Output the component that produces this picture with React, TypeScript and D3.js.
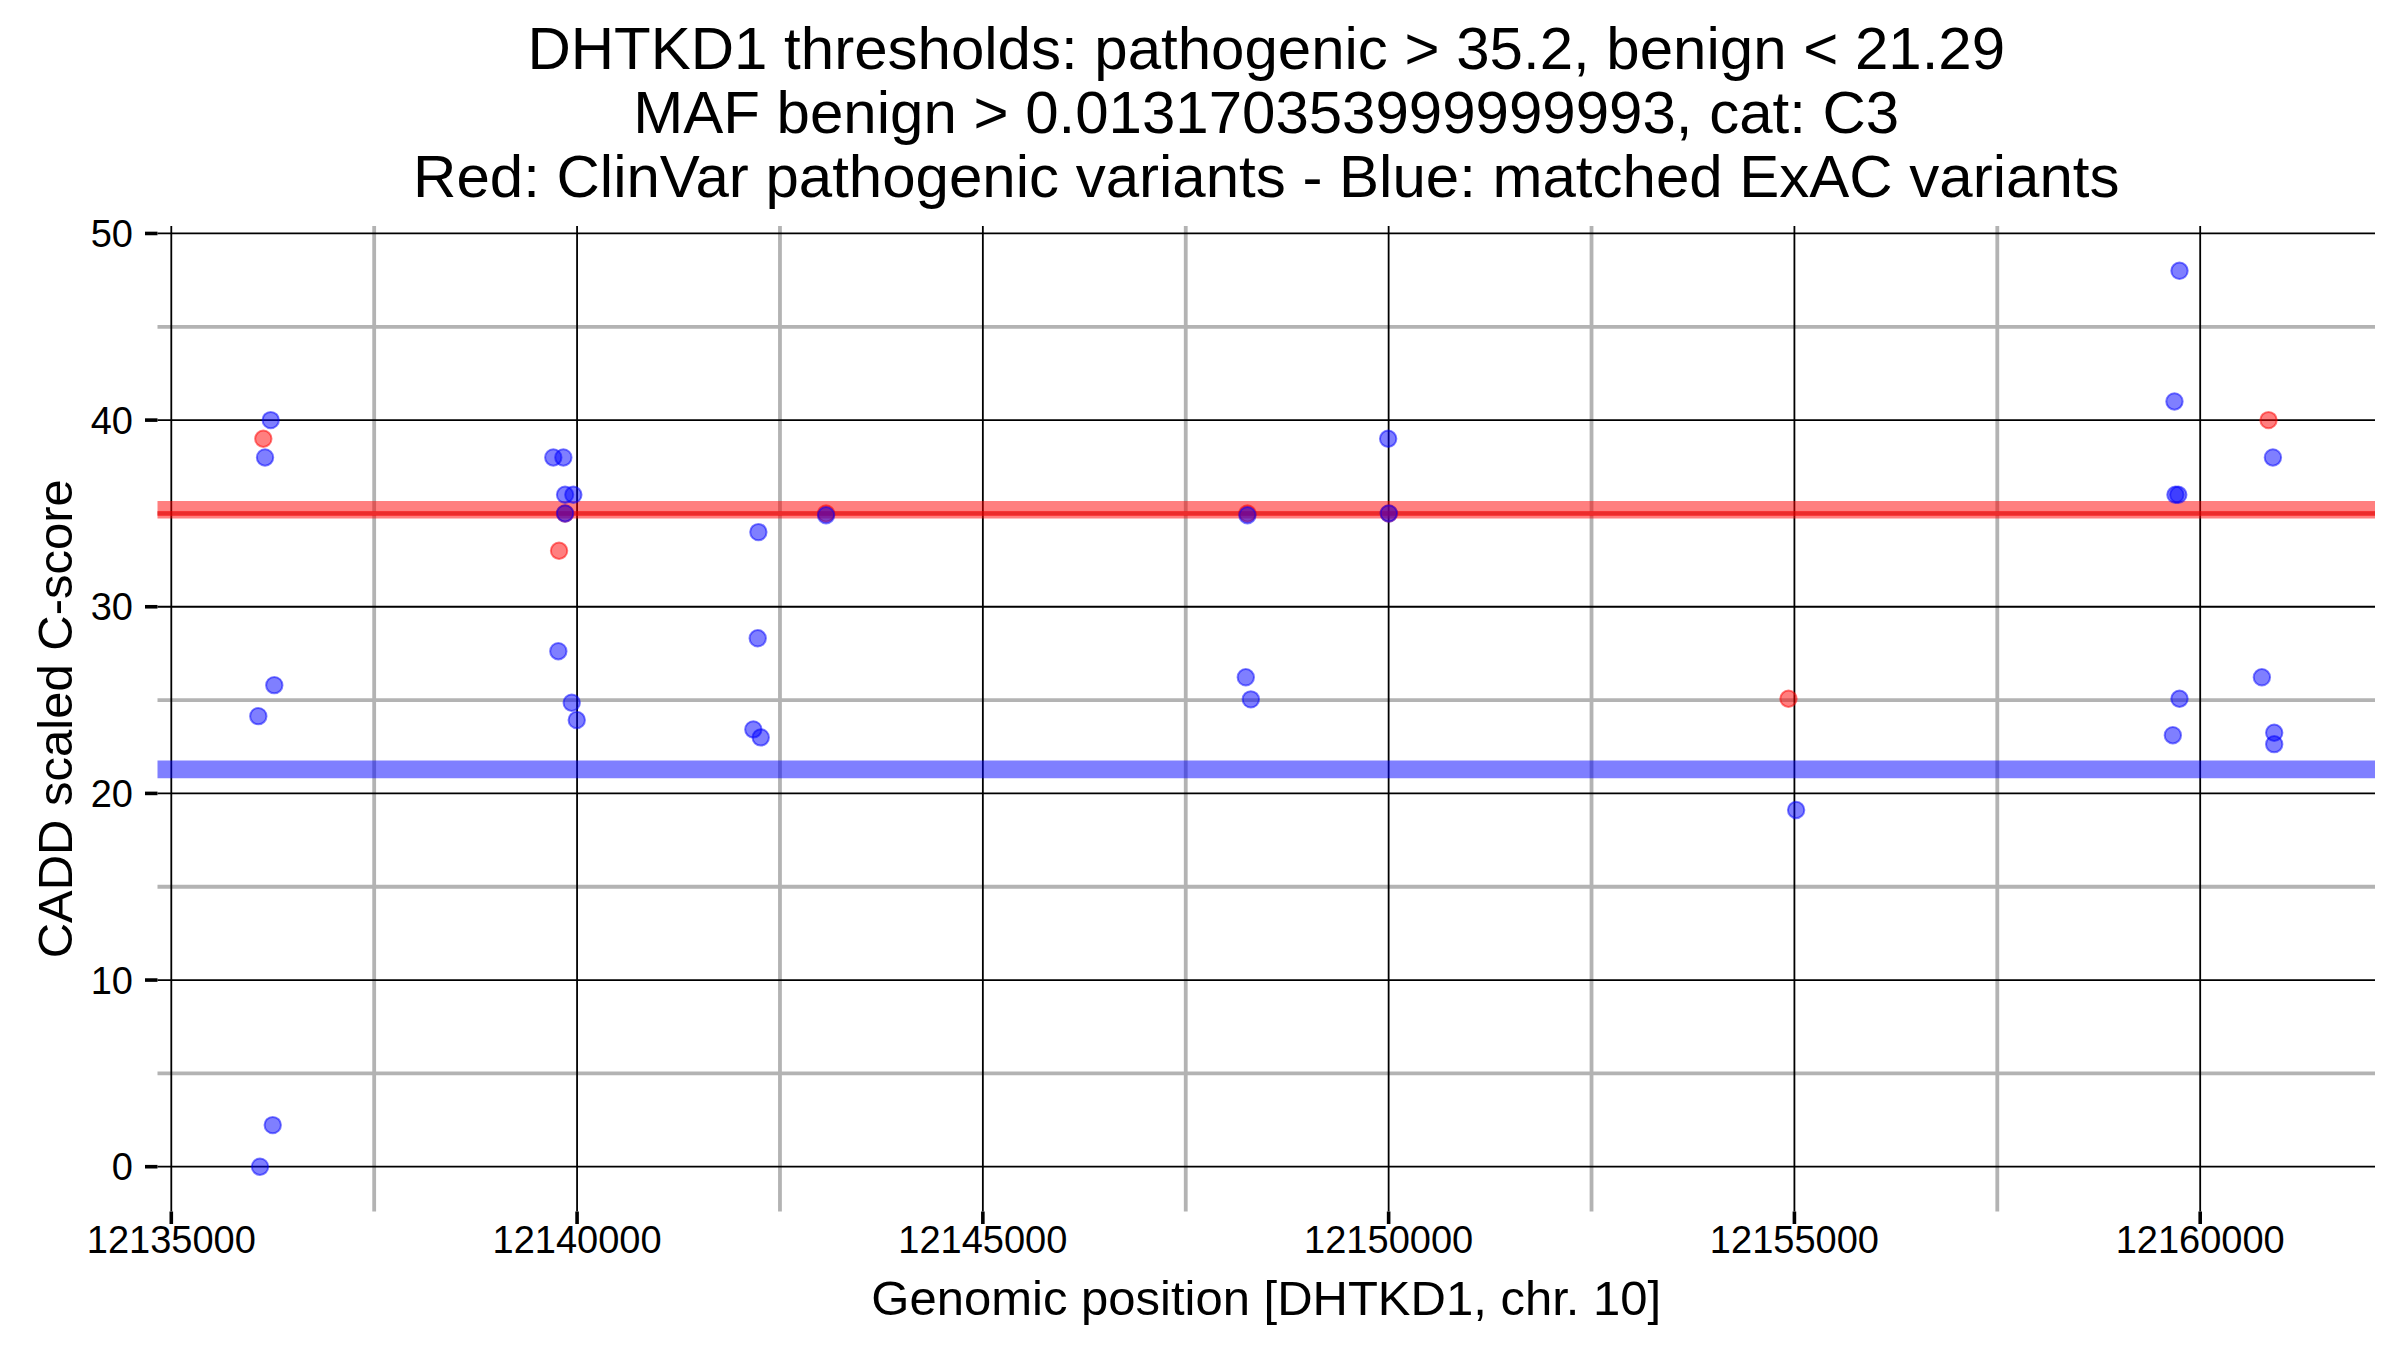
import React, { useEffect } from "react";
import * as d3 from "d3";

// ClinVar pathogenic variants (red)
const pathoPos = [12136134, 12139852, 12139778, 12143068, 12148260, 12150002, 12154927, 12160842];
const pathoScore = [39, 35, 33, 35, 35, 35, 25.07, 40];

// matched ExAC variants (blue)
const exacPos = [
  12136225, 12136155, 12136269, 12136072, 12136250, 12136093,
  12139707, 12139831, 12139852, 12139954, 12139852, 12139769, 12139934, 12139996,
  12142234, 12142226, 12142172, 12142263, 12143068,
  12148260, 12148240, 12148302, 12149994, 12150002,
  12155021,
  12159745, 12159683, 12159695, 12159730, 12160896, 12160760, 12159745, 12159663, 12160912, 12160912,
];
const exacScore = [
  40, 38, 25.8, 24.14, 2.23, 0,
  38, 38, 36, 36, 35, 27.62, 24.86, 23.93,
  34, 28.31, 23.43, 23.0, 34.9,
  34.9, 26.22, 25.04, 39, 35,
  19.11,
  48, 41, 36, 36, 38, 26.22, 25.07, 23.12, 23.25, 22.64,
];

const pathoThreshold = 35.2;
const benignThreshold = 21.29;
const extraLine = 35;

const xMajor = [12135000, 12140000, 12145000, 12150000, 12155000, 12160000];
const xMinor = [12137500, 12142500, 12147500, 12152500, 12157500];
const yMajor = [0, 10, 20, 30, 40, 50];
const yMinor = [5, 15, 25, 35, 45];

const titleLines = [
  "DHTKD1 thresholds: pathogenic > 35.2, benign < 21.29",
  "MAF benign > 0.013170353999999993, cat: C3",
  "Red: ClinVar pathogenic variants - Blue: matched ExAC variants",
];
const xTitle = "Genomic position [DHTKD1, chr. 10]";
const yTitle = "CADD scaled C-score";

const W = 2400;
const H = 1350;
const L = 157.5, R = 2375, T = 226, B = 1211.5;
const FONT = "'Liberation Sans', Arial, Helvetica, sans-serif";

export default function App() {
  useEffect(() => {
    document.body.style.margin = "0";
  }, []);

  const allX = [...pathoPos, ...exacPos];
  const allY = [...pathoScore, ...exacScore];
  const [x0, x1] = d3.extent(allX) as [number, number];
  const [y0, y1] = d3.extent(allY) as [number, number];
  const xr = x1 - x0, yr = y1 - y0;
  const x = d3.scaleLinear().domain([x0 - 0.05 * xr, x1 + 0.05 * xr]).range([L, R]);
  const y = d3.scaleLinear().domain([y0 - 0.05 * yr, y1 + 0.05 * yr]).range([B, T]);

  const grey = "#b3b3b3";

  return (
    <svg width={W} height={H} style={{ position: "absolute", left: 0, top: 0, background: "#fff" }} fontFamily={FONT}>
      <rect x={0} y={0} width={W} height={H} fill="#fff" />
      {/* minor grid */}
      {yMinor.map((v) => (
        <line key={"ym" + v} x1={L} x2={R} y1={y(v)} y2={y(v)} stroke={grey} strokeWidth={3.8} />
      ))}
      {xMinor.map((v) => (
        <line key={"xm" + v} x1={x(v)} x2={x(v)} y1={T} y2={B} stroke={grey} strokeWidth={3.8} />
      ))}
      {/* major grid */}
      {yMajor.map((v) => (
        <line key={"yM" + v} x1={L} x2={R} y1={y(v)} y2={y(v)} stroke="#000" strokeWidth={1.8} />
      ))}
      {xMajor.map((v) => (
        <line key={"xM" + v} x1={x(v)} x2={x(v)} y1={T} y2={B} stroke="#000" strokeWidth={1.8} />
      ))}
      {/* threshold lines */}
      <line x1={L} x2={R} y1={y(pathoThreshold)} y2={y(pathoThreshold)} stroke="rgba(255,0,0,0.5)" strokeWidth={17.6} />
      <line x1={L} x2={R} y1={y(extraLine)} y2={y(extraLine)} stroke="rgba(255,0,0,0.5)" strokeWidth={5} />
      <line x1={L} x2={R} y1={y(benignThreshold)} y2={y(benignThreshold)} stroke="rgba(0,0,255,0.5)" strokeWidth={17.6} />
      {/* points */}
      {pathoPos.map((p, i) => (
        <circle key={"p" + i} cx={x(p)} cy={y(pathoScore[i])} r={8.2} fill="rgba(255,0,0,0.5)" stroke="rgba(255,0,0,0.5)" strokeWidth={2} />
      ))}
      {exacPos.map((p, i) => (
        <circle key={"e" + i} cx={x(p)} cy={y(exacScore[i])} r={8.2} fill="rgba(0,0,255,0.5)" stroke="rgba(0,0,255,0.5)" strokeWidth={2} />
      ))}
      {/* axes ticks */}
      {yMajor.map((v) => (
        <g key={"yt" + v}>
          <line x1={L - 12.5} x2={L} y1={y(v)} y2={y(v)} stroke="#000" strokeWidth={3.6} />
          <text x={133} y={y(v)} dy="0.36em" textAnchor="end" fontSize={38} fill="#000">{v}</text>
        </g>
      ))}
      {xMajor.map((v) => (
        <g key={"xt" + v}>
          <line x1={x(v)} x2={x(v)} y1={B} y2={B + 12.5} stroke="#000" strokeWidth={3.6} />
          <text x={x(v)} y={1253} textAnchor="middle" fontSize={38} fill="#000">{v}</text>
        </g>
      ))}
      {/* titles */}
      {titleLines.map((t, i) => (
        <text key={"t" + i} x={(L + R) / 2} y={69 + i * 64} textAnchor="middle" fontSize={60} fill="#000">{t}</text>
      ))}
      <text x={(L + R) / 2} y={1315} textAnchor="middle" fontSize={49} fill="#000">{xTitle}</text>
      <text transform={`translate(72,${(T + B) / 2}) rotate(-90)`} textAnchor="middle" fontSize={49} fill="#000">{yTitle}</text>
    </svg>
  );
}
